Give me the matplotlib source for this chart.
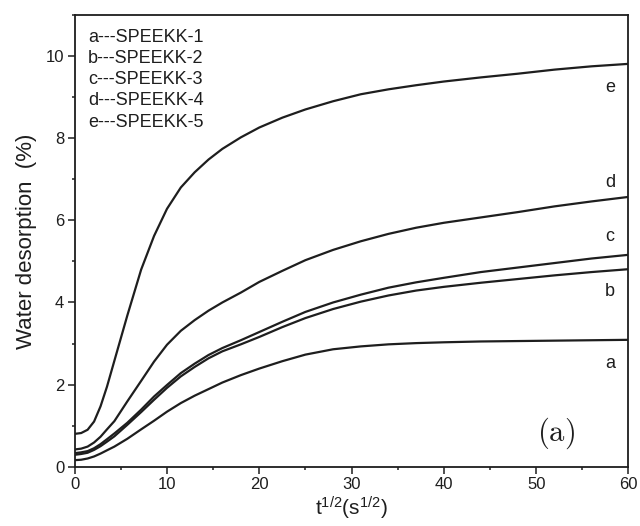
import matplotlib
matplotlib.use("Agg")
import matplotlib.pyplot as plt
from matplotlib.ticker import MultipleLocator

plt.rcParams['font.family'] = ['Liberation Sans', 'DejaVu Sans']
plt.rcParams['mathtext.fontset'] = 'cm'

# sqrt(time) grid, s^1/2
t_sqrt = [0, 0.7, 1.4, 2.1, 2.8, 3.5, 4.3, 5.7, 7.2, 8.6, 10, 11.5, 13, 14.5, 16, 18, 20,
          22.5, 25, 28, 31, 34, 37, 40, 44, 48, 52, 56, 60]

# water desorption (%) per membrane
spk1 = [0.16, 0.17, 0.20, 0.25, 0.32, 0.40, 0.49, 0.68, 0.91, 1.12, 1.34, 1.55, 1.73, 1.89,
        2.05, 2.23, 2.39, 2.57, 2.73, 2.86, 2.93, 2.98, 3.01, 3.03, 3.05, 3.06, 3.07, 3.08, 3.09]
spk2 = [0.29, 0.31, 0.34, 0.41, 0.50, 0.61, 0.74, 1.02, 1.33, 1.63, 1.92, 2.20, 2.43, 2.64,
        2.81, 2.98, 3.16, 3.40, 3.62, 3.84, 4.02, 4.17, 4.29, 4.38, 4.48, 4.57, 4.66, 4.74, 4.81]
spk3 = [0.33, 0.35, 0.38, 0.45, 0.55, 0.67, 0.81, 1.07, 1.39, 1.71, 1.99, 2.28, 2.51, 2.72,
        2.89, 3.08, 3.28, 3.53, 3.77, 4.00, 4.19, 4.36, 4.49, 4.60, 4.74, 4.85, 4.96, 5.07, 5.16]
spk4 = [0.42, 0.44, 0.49, 0.59, 0.73, 0.91, 1.11, 1.59, 2.09, 2.56, 2.97, 3.31, 3.57, 3.80,
        4.00, 4.24, 4.50, 4.77, 5.03, 5.28, 5.49, 5.67, 5.82, 5.94, 6.07, 6.20, 6.34, 6.46, 6.57]
spk5 = [0.80, 0.82, 0.90, 1.10, 1.47, 1.95, 2.58, 3.68, 4.80, 5.62, 6.28, 6.80, 7.17, 7.48,
        7.74, 8.02, 8.26, 8.50, 8.70, 8.90, 9.07, 9.19, 9.29, 9.38, 9.48, 9.57, 9.67, 9.75, 9.81]

series = [spk1, spk2, spk3, spk4, spk5]
letters = ['a', 'b', 'c', 'd', 'e']
names = ['SPEEKK-1', 'SPEEKK-2', 'SPEEKK-3', 'SPEEKK-4', 'SPEEKK-5']
label_y = [2.52, 4.27, 5.61, 6.91, 9.23]

ink = '#1e1e1e'

fig = plt.figure(figsize=(6.4, 5.26), dpi=100)
ax = fig.add_axes([0.1167, 0.1127, 0.8653, 0.8588])

for ys in series:
    ax.plot(t_sqrt, ys, color=ink, lw=1.6, solid_joinstyle='round')

for letter, ly in zip(letters, label_y):
    ax.text(58.0, ly, letter, fontsize=13, ha='center', va='center', color=ink)

legend_txt = '\n'.join(f'{l}---{n}' for l, n in zip(letters, names))
ax.text(0.024, 0.97, legend_txt, transform=ax.transAxes, fontsize=13,
        va='top', ha='left', linespacing=1.33, color=ink)

ax.text(52.2, 0.82, r'$\mathrm{(a)}$', fontsize=22, ha='center', va='center', color=ink)

ax.set_xlim(0, 60)
ax.set_ylim(0, 11)
ax.xaxis.set_major_locator(MultipleLocator(10))
ax.xaxis.set_minor_locator(MultipleLocator(5))
ax.yaxis.set_major_locator(MultipleLocator(2))
ax.yaxis.set_minor_locator(MultipleLocator(1))
ax.tick_params(which='both', direction='out', top=False, right=False, labelsize=12,
               colors=ink, pad=2.5)
ax.tick_params(which='major', length=5, width=1.1)
ax.tick_params(which='minor', length=2.5, width=1.1)
for sp in ax.spines.values():
    sp.set_linewidth(1.3)
    sp.set_color(ink)

ax.set_xlabel(r'$\mathregular{t^{1/2}(s^{1/2})}$', fontsize=15, labelpad=2, color=ink)
ax.set_ylabel('Water desorption  (%)', fontsize=16, labelpad=6, color=ink)

fig.savefig('out.png', dpi=100)
